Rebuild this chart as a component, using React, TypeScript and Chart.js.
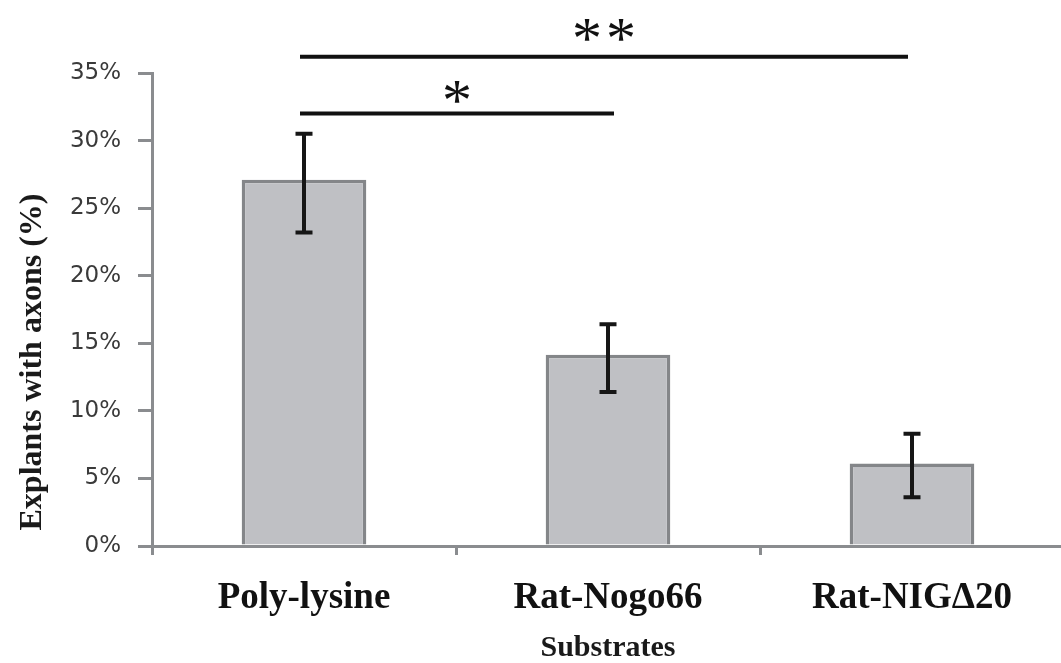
import React, { useEffect, useRef } from "react";
import { Chart, registerables } from "chart.js";

Chart.register(...registerables);

const categories = ["Poly-lysine", "Rat-Nogo66", "Rat-NIGΔ20"];
const values = [27.1, 14.15, 6.1];
const errLow = [23.2, 11.4, 3.6];
const errHigh = [30.5, 16.4, 8.3];
const yTickValues = [0, 5, 10, 15, 20, 25, 30, 35];
const yTickLabels = ["0%", "5%", "10%", "15%", "20%", "25%", "30%", "35%"];
const sigFrom = [0, 0];
const sigTo = [1, 2];
const sigLevel = [32.0, 36.2];
const sigStarLevel = [33.6, 38.2];
const sigLabels = ["*", "**"];
const yTitle = "Explants with axons (%)";
const xTitle = "Substrates";

const extrasPlugin = {
  id: "extras",
  afterDatasetsDraw(chart: any) {
    const { ctx, scales } = chart;
    const y = scales.y;
    const meta = chart.getDatasetMeta(0);
    ctx.save();
    ctx.strokeStyle = "#161616";
    ctx.lineWidth = 4;
    ctx.lineCap = "butt";
    meta.data.forEach((bar: any, i: number) => {
      const x = bar.x;
      const yl = y.getPixelForValue(errLow[i]);
      const yh = y.getPixelForValue(errHigh[i]);
      ctx.beginPath();
      ctx.moveTo(x, yl);
      ctx.lineTo(x, yh);
      ctx.moveTo(x - 8.5, yl);
      ctx.lineTo(x + 8.5, yl);
      ctx.moveTo(x - 8.5, yh);
      ctx.lineTo(x + 8.5, yh);
      ctx.stroke();
    });
    ctx.restore();
  },
  afterDraw(chart: any) {
    const { ctx, scales } = chart;
    const x = scales.x;
    const y = scales.y;
    ctx.save();
    ctx.strokeStyle = "#111111";
    ctx.fillStyle = "#111111";
    ctx.lineWidth = 4;
    for (let k = 0; k < sigFrom.length; k++) {
      const x1 = x.getPixelForValue(sigFrom[k]) - 4;
      const x2 = x.getPixelForValue(sigTo[k]) + (sigTo[k] === 2 ? -4 : 6);
      const yy = y.getPixelForValue(sigLevel[k]);
      ctx.beginPath();
      ctx.moveTo(x1, yy);
      ctx.lineTo(x2, yy);
      ctx.stroke();
      ctx.font = "60px 'Liberation Serif', 'Times New Roman', serif";
      ctx.textAlign = "center";
      ctx.textBaseline = "alphabetic";
      const label = sigLabels[k];
      const m = ctx.measureText("*");
      const cy = y.getPixelForValue(sigStarLevel[k]);
      const off = (m.actualBoundingBoxAscent - m.actualBoundingBoxDescent) / 2;
      const n = label.length;
      for (let j = 0; j < n; j++) {
        const cx = (x1 + x2) / 2 + (j - (n - 1) / 2) * 34;
        ctx.fillText(label[j], cx, cy + off);
      }
    }
    // y axis title
    ctx.font = "bold 32px 'Liberation Serif', 'Times New Roman', serif";
    ctx.fillStyle = "#1a1a1a";
    ctx.textAlign = "center";
    ctx.textBaseline = "middle";
    ctx.translate(33, 362);
    ctx.rotate(-Math.PI / 2);
    ctx.fillText(yTitle, 0, 0);
    ctx.restore();
  },
};

export default function App() {
  const ref = useRef<HTMLCanvasElement>(null);
  useEffect(() => {
    if (!ref.current) return;
    const axisColor = "#8a8c8f";
    const chart = new Chart(ref.current, {
      type: "bar",
      data: {
        labels: categories,
        datasets: [
          {
            data: values,
            backgroundColor: "#bfc0c4",
            borderColor: "#848689",
            borderWidth: 3.5,
            borderSkipped: "bottom",
            categoryPercentage: 1,
            barPercentage: 0.41,
          },
        ],
      },
      options: {
        responsive: false,
        animation: false,
        layout: { padding: { top: 73, right: 11, left: 0, bottom: 0 } },
        plugins: { legend: { display: false }, tooltip: { enabled: false } },
        scales: {
          x: {
            offset: true,
            grid: {
              offset: true,
              drawOnChartArea: false,
              tickLength: 9,
              color: axisColor,
              lineWidth: 3,
            },
            border: { color: axisColor, width: 3 },
            ticks: {
              color: "#111111",
              padding: 21,
              font: { family: "'Liberation Serif', 'Times New Roman', serif", size: 37, weight: "bold" },
            },
            title: {
              display: true,
              text: xTitle,
              color: "#1a1a1a",
              padding: { top: 0, bottom: 0 },
              font: { family: "'Liberation Serif', 'Times New Roman', serif", size: 30, weight: "bold", lineHeight: 1 },
            },
            afterFit(scale: any) {
              scale.height = 117;
            },
          },
          y: {
            min: 0,
            max: 35,
            afterBuildTicks(scale: any) {
              scale.ticks = yTickValues.map((v) => ({ value: v }));
            },
            grid: {
              drawOnChartArea: false,
              tickLength: 14,
              color: axisColor,
              lineWidth: 3,
            },
            border: { color: axisColor, width: 3 },
            ticks: {
              color: "#3a3a3a",
              padding: 17,
              font: { family: "'DejaVu Sans', sans-serif", size: 23 },
              callback: (v: any) => yTickLabels[yTickValues.indexOf(Number(v))],
            },
            afterFit(scale: any) {
              scale.width = 152;
            },
          },
        },
      },
      plugins: [extrasPlugin],
    } as any);
    return () => chart.destroy();
  }, []);
  return (
    <div style={{ position: "fixed", left: 0, top: 0, width: 1075, height: 663, background: "#fff" }}>
      <canvas ref={ref} width={1075} height={663} style={{ display: "block" }} />
    </div>
  );
}
